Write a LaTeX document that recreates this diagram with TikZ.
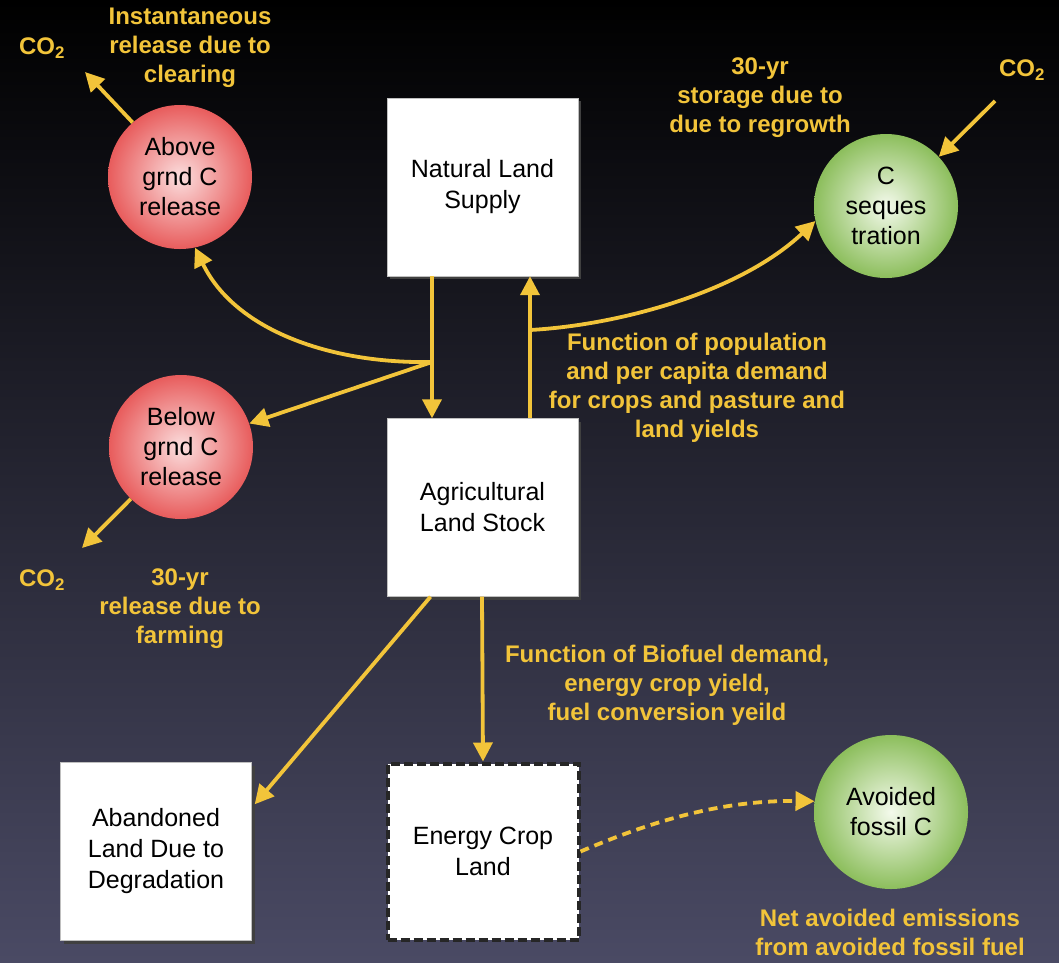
\documentclass[tikz,border=0pt]{standalone}
\usepackage{fontspec}
\setmainfont{Liberation Sans}
\usetikzlibrary{arrows.meta,calc,shadows}
\definecolor{ylw}{RGB}{242,196,58}
\definecolor{bgbot}{RGB}{74,74,100}
\definecolor{bgmid}{RGB}{22,22,46}
\definecolor{redin}{RGB}{251,222,222}
\definecolor{redout}{RGB}{232,92,92}
\definecolor{grnin}{RGB}{244,250,236}
\definecolor{grnout}{RGB}{140,190,92}
\begin{document}
\begin{tikzpicture}[x=1pt,y=-1pt,
  arr/.style={draw=ylw, line width=3.8pt, -{Triangle[length=19pt,width=19pt]}},
  lbl/.style={text=ylw, font=\fontsize{24}{29}\selectfont\bfseries, align=center, inner sep=0pt},
  co/.style={text=ylw, font=\fontsize{24}{29}\selectfont\bfseries, inner sep=0pt},
  box/.style={rectangle, fill=white, draw=gray!50, minimum width=191pt, minimum height=178pt,
    font=\fontsize{25}{31}\selectfont, align=center,
    drop shadow={shadow xshift=3pt, shadow yshift=-3pt, fill=black!75, opacity=1}},
  dbox/.style={rectangle, fill=white, draw=black!85, line width=4pt, dash pattern=on 9pt off 4pt,
    minimum width=191pt, minimum height=176pt, font=\fontsize{25}{31}\selectfont, align=center},
  ball/.style={circle, minimum size=144pt, inner sep=0pt, font=\fontsize{25}{30}\selectfont, align=center},
  redball/.style={ball, shading=radial, inner color=redin, outer color=redout},
  grnball/.style={ball, shading=radial, inner color=grnin, outer color=grnout}]

\shade[top color=black, middle color=bgmid, bottom color=bgbot] (0,0) rectangle (1059,962);
\useasboundingbox (0,0) rectangle (1059,962);

% boxes
\node[box] (nat) at (482.5,187) {Natural Land\\Supply};
\node[box] (ag) at (482.5,507.5) {Agricultural\\Land Stock};
\node[box] (ab) at (156,851.5) {Abandoned\\Land Due to\\Degradation};
\node[dbox] (en) at (483,851.5) {Energy Crop\\Land};

% circles
\node[redball] (abv) at (180,177) {Above\\grnd C\\release};
\node[redball] (bel) at (181,447) {Below\\grnd C\\release};
\node[grnball] (seq) at (886,206) {C\\seques\\tration};
\node[grnball, minimum size=154pt] (av) at (891,812) {Avoided\\fossil C};

% CO2 labels
\node[co] (co2a) at (42,48) {CO\textsubscript{2}};
\node[co] (co2b) at (42,580) {CO\textsubscript{2}};
\node[co] (co2c) at (1022,70) {CO\textsubscript{2}};

% text labels
\node[lbl] (inst) at (190,48) {Instantaneous\\release due to\\clearing};
\node[lbl] (stor) at (760,98) {30-yr\\storage due to\\due to regrowth};
\node[lbl] (fpop) at (697,388) {Function of population\\and per capita demand\\for crops and pasture and\\land yields};
\node[lbl] (farm) at (180,609) {30-yr\\release due to\\farming};
\node[lbl] (fbio) at (667,685) {Function of Biofuel demand,\\energy crop yield,\\fuel conversion yeild};
\node[lbl] (net) at (890,932) {Net avoided emissions\\from avoided fossil fuel};

% free ends
\coordinate (ea) at (85,72);
\coordinate (eb) at (82,548);
\coordinate (ec) at (995,101);
\coordinate (b1) at (432,362);
\coordinate (b2) at (530,330);

% connectors
\draw[arr] ([xshift=-50.5pt]nat.south) -- ([xshift=-50.5pt]ag.north);
\draw[arr] ([xshift=47.5pt]ag.north) -- ([xshift=47.5pt]nat.south);
\draw[arr] (b1) .. controls (330,364) and (235,330) .. (abv.-78);
\draw[arr] (b1) -- (bel.19);
\draw[arr] (b2) .. controls (620,325) and (740,292) .. (seq.192);
\draw[arr] (abv.131) -- (ea);
\draw[arr] (bel.226) -- (eb);
\draw[arr] (ec) -- (seq.43);
\draw[arr] ([xshift=-52pt]ag.south) -- ($(ab.north east)+(3,42)$);
\draw[arr] ([xshift=-0.5pt]ag.south) -- (en.north);
\draw[arr, dash pattern=on 9pt off 6pt] (en.east) .. controls (650,822) and (720,800) .. (av.172);
\end{tikzpicture}
\end{document}
